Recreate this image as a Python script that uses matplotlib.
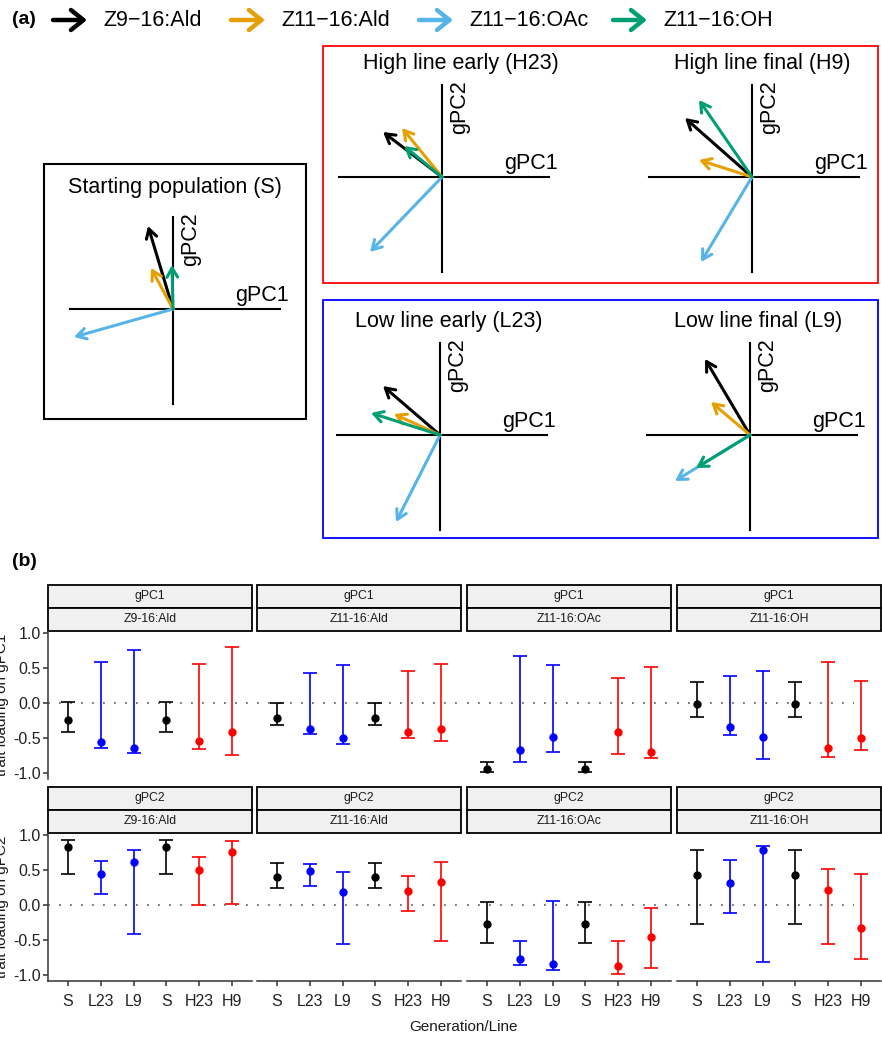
import numpy as np
import matplotlib.pyplot as plt
from matplotlib.patches import Rectangle

plt.rcParams['font.family'] = ['Liberation Sans', 'DejaVu Sans']

W, H = 882, 1040

traits = ['Z9-16:Ald', 'Z11-16:Ald', 'Z11-16:OAc', 'Z11-16:OH']
legend_labels = ['Z9\u221216:Ald', 'Z11\u221216:Ald', 'Z11\u221216:OAc', 'Z11\u221216:OH']
trait_colors = ['#000000', '#E69F00', '#56B4E9', '#009E73']

# (a) biplot loadings, order = traits
S_pc1 = [-0.25, -0.22, -0.99, -0.01]
S_pc2 = [0.83, 0.41, -0.28, 0.44]
H23_pc1 = [-0.59, -0.40, -0.72, -0.38]
H23_pc2 = [0.45, 0.49, -0.75, 0.31]
H9_pc1 = [-0.67, -0.53, -0.51, -0.53]
H9_pc2 = [0.59, 0.17, -0.85, 0.77]
L23_pc1 = [-0.57, -0.46, -0.44, -0.69]
L23_pc2 = [0.49, 0.21, -0.87, 0.22]
L9_pc1 = [-0.45, -0.39, -0.75, -0.54]
L9_pc2 = [0.76, 0.33, -0.46, -0.33]

# (b) trait loadings with intervals
lines = ['S', 'L23', 'L9', 'S', 'H23', 'H9']
line_colors = ['black', 'blue', 'blue', 'black', 'red', 'red']

pc1_mid = [[-0.24, -0.56, -0.64, -0.24, -0.54, -0.42],
           [-0.21, -0.38, -0.50, -0.21, -0.42, -0.37],
           [-0.95, -0.68, -0.49, -0.95, -0.41, -0.70],
           [-0.01, -0.35, -0.49, -0.01, -0.64, -0.50]]
pc1_lo = [[-0.42, -0.65, -0.72, -0.42, -0.66, -0.74],
          [-0.31, -0.45, -0.59, -0.31, -0.50, -0.55],
          [-0.99, -0.85, -0.70, -0.99, -0.73, -0.79],
          [-0.20, -0.46, -0.80, -0.20, -0.77, -0.68]]
pc1_hi = [[0.02, 0.59, 0.76, 0.02, 0.56, 0.80],
          [0.00, 0.43, 0.55, 0.00, 0.46, 0.56],
          [-0.84, 0.67, 0.54, -0.84, 0.35, 0.51],
          [0.30, 0.39, 0.46, 0.30, 0.59, 0.32]]

pc2_mid = [[0.83, 0.44, 0.61, 0.83, 0.50, 0.76],
           [0.40, 0.49, 0.18, 0.40, 0.20, 0.33],
           [-0.28, -0.77, -0.85, -0.28, -0.88, -0.46],
           [0.43, 0.31, 0.78, 0.43, 0.22, -0.33]]
pc2_lo = [[0.44, 0.15, -0.41, 0.44, 0.005, 0.01],
          [0.24, 0.27, -0.56, 0.24, -0.09, -0.51],
          [-0.54, -0.86, -0.93, -0.54, -0.99, -0.91],
          [-0.27, -0.11, -0.82, -0.27, -0.56, -0.78]]
pc2_hi = [[0.93, 0.63, 0.79, 0.93, 0.69, 0.92],
          [0.60, 0.59, 0.47, 0.60, 0.41, 0.61],
          [0.04, -0.51, 0.06, 0.04, -0.52, -0.04],
          [0.79, 0.64, 0.84, 0.79, 0.52, 0.44]]


def rect(x0, y0, x1, y1):
    return [x0 / W, 1 - y1 / H, (x1 - x0) / W, (y1 - y0) / H]


fig = plt.figure(figsize=(W / 100, H / 100), dpi=100)

# overlay in pixel coordinates for frames, titles, legend, strips
ov = fig.add_axes([0, 0, 1, 1])
ov.set_xlim(0, W)
ov.set_ylim(H, 0)
ov.axis('off')

ov.text(12, 20, '(a)', fontsize=14, fontweight='bold', va='center')
ov.text(12, 562, '(b)', fontsize=14, fontweight='bold', va='center')

leg_x = [53, 231, 419, 613]
for i, c in enumerate(trait_colors):
    ov.annotate('', xy=(leg_x[i] + 34, 20), xytext=(leg_x[i], 20),
                arrowprops=dict(arrowstyle='->,head_length=0.5,head_width=0.4',
                                lw=3.2, color=c, mutation_scale=18,
                                shrinkA=0, shrinkB=0))
    ov.text(leg_x[i] + 50, 20, legend_labels[i], fontsize=15.5, va='center')

ov.add_patch(Rectangle((44, 164), 262, 255, fill=False, ec='black', lw=1.5))
ov.add_patch(Rectangle((323, 46), 555, 237, fill=False, ec='red', lw=1.3))
ov.add_patch(Rectangle((323, 300), 555, 238, fill=False, ec='blue', lw=1.3))

biplots = [
    ('Starting population (S)', 173, 309, 175, 188, S_pc1, S_pc2),
    ('High line early (H23)', 442, 177, 461, 64, H23_pc1, H23_pc2),
    ('High line final (H9)', 752, 177, 762, 64, H9_pc1, H9_pc2),
    ('Low line early (L23)', 440, 435, 449, 322, L23_pc1, L23_pc2),
    ('Low line final (L9)', 750, 435, 758, 322, L9_pc1, L9_pc2),
]

for title, ox, oy, tx, ty, p1, p2 in biplots:
    ov.text(tx, ty, title, fontsize=15.5, ha='center', va='center')
    ax = fig.add_axes(rect(ox - 130, oy - 130, ox + 130, oy + 130))
    ax.set_xlim(-1.3, 1.3)
    ax.set_ylim(-1.3, 1.3)
    ax.axis('off')
    ax.plot([-1.03, 1.07], [0, 0], color='black', lw=1.5)
    ax.plot([0, 0], [-0.95, 0.92], color='black', lw=1.5)
    ax.text(1.16, 0.03, 'gPC1', fontsize=15.5, ha='right', va='bottom')
    ax.text(0.18, 0.97, 'gPC2', fontsize=15.5, rotation=90, ha='center', va='top')
    for i, c in enumerate(trait_colors):
        ax.annotate('', xy=(p1[i], p2[i]), xytext=(0, 0),
                    arrowprops=dict(arrowstyle='->,head_length=0.55,head_width=0.32',
                                    lw=2.2, color=c, mutation_scale=12,
                                    shrinkA=0, shrinkB=0))

# (b) faceted error bars
col_x = [48, 257, 467, 677]
pw = 204
rows = [(631, 779, 585, 'gPC1', pc1_mid, pc1_lo, pc1_hi),
        (833, 981, 787, 'gPC2', pc2_mid, pc2_lo, pc2_hi)]
xs = np.arange(1, 7)

for r, (y0, y1, sy, pcname, mid, lo, hi) in enumerate(rows):
    fig.text(2 / W, 1 - (y0 + y1) / 2 / H, 'trait loading on ' + pcname,
             rotation=90, fontsize=11, ha='center', va='center', color='#1a1a1a')
    for j in range(4):
        x0 = col_x[j]
        ov.add_patch(Rectangle((x0, sy), pw, 23, fc='#F0F0F0', ec='black', lw=1.3))
        ov.add_patch(Rectangle((x0, sy + 23), pw, 23, fc='#F0F0F0', ec='black', lw=1.3))
        ov.text(x0 + pw / 2, sy + 11.5, pcname, fontsize=8.8, ha='center',
                va='center', color='#1a1a1a')
        ov.text(x0 + pw / 2, sy + 34.5, traits[j], fontsize=8.8, ha='center',
                va='center', color='#1a1a1a')

        ax = fig.add_axes(rect(x0, y0, x0 + pw, y1))
        ax.set_xlim(0.4, 6.6)
        ax.set_ylim(-1.09, 1.03)
        ax.patch.set_alpha(0)
        xmax = 0.87 if j == 3 else 1
        ax.axhline(0, xmin=0, xmax=xmax, color='#555555', lw=1.1,
                   ls=(0, (1.2, 6)))
        m = np.array(mid[j])
        l = np.array(lo[j])
        h = np.array(hi[j])
        for k in range(6):
            ax.errorbar(xs[k], m[k], yerr=[[m[k] - l[k]], [h[k] - m[k]]],
                        fmt='o', color=line_colors[k], ms=5, elinewidth=1.2,
                        capsize=4.7, capthick=1.2)
        for s in ['top', 'right']:
            ax.spines[s].set_visible(False)
        ax.spines['left'].set_visible(j == 0)
        ax.spines['bottom'].set_visible(r == 1)
        for s in ['left', 'bottom']:
            ax.spines[s].set_color('#333333')
            ax.spines[s].set_linewidth(1.1)
        ax.set_yticks([-1, -0.5, 0, 0.5, 1])
        ax.set_xticks(xs)
        if j == 0:
            ax.set_yticklabels(['-1.0', '-0.5', '0.0', '0.5', '1.0'])
            ax.tick_params(axis='y', length=3.5, width=1.1, color='#333333',
                           labelsize=11.5, pad=1.5, labelcolor='#222222')
        else:
            ax.tick_params(axis='y', left=False, labelleft=False)
        if r == 1:
            ax.set_xticklabels(lines)
            ax.tick_params(axis='x', length=3.5, width=1.1, color='#333333',
                           labelsize=11.5, pad=6, labelcolor='#222222')
        else:
            ax.tick_params(axis='x', bottom=False, labelbottom=False)

fig.text(464 / W, 1 - 1027 / H, 'Generation/Line', fontsize=11, ha='center',
         va='center', color='#1a1a1a')

fig.savefig('out.png', dpi=100)
